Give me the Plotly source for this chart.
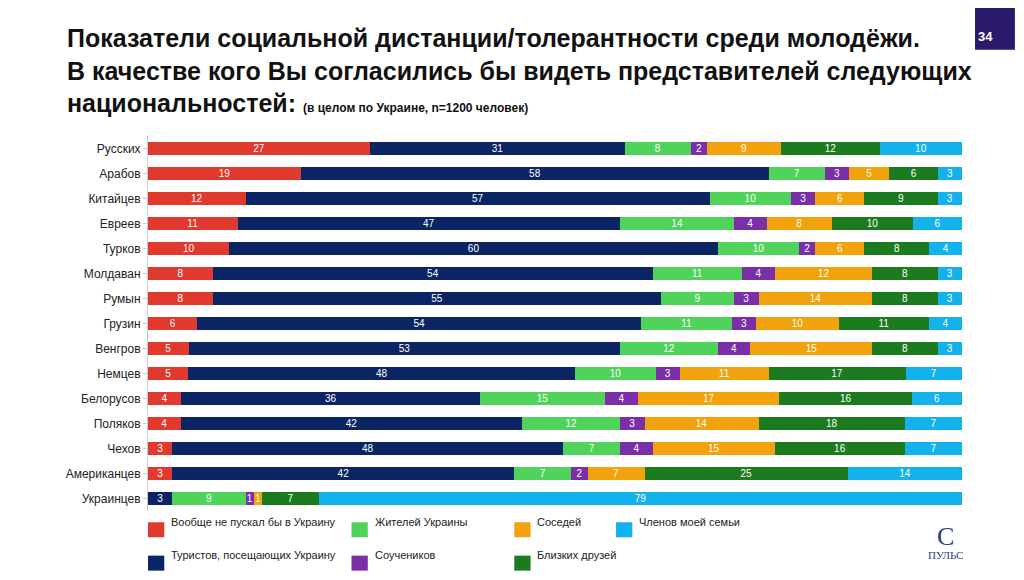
import plotly.graph_objects as go

groups = ["Русских", "Арабов", "Китайцев", "Евреев", "Турков", "Молдаван", "Румын", "Грузин",
          "Венгров", "Немцев", "Белорусов", "Поляков", "Чехов", "Американцев", "Украинцев"]

series = {
    "Вообще не пускал бы в Украину": ("#e03a2f", [27, 19, 12, 11, 10, 8, 8, 6, 5, 5, 4, 4, 3, 3, 0]),
    "Туристов, посещающих Украину": ("#0b2463", [31, 58, 57, 47, 60, 54, 55, 54, 53, 48, 36, 42, 48, 42, 3]),
    "Жителей Украины": ("#4fd35a", [8, 7, 10, 14, 10, 11, 9, 11, 12, 10, 15, 12, 7, 7, 9]),
    "Соучеников": ("#7a2fa8", [2, 3, 3, 4, 2, 4, 3, 3, 4, 3, 4, 3, 4, 2, 1]),
    "Соседей": ("#f2a20c", [9, 5, 6, 8, 6, 12, 14, 10, 15, 11, 17, 14, 15, 7, 1]),
    "Близких друзей": ("#1c7a1f", [12, 6, 9, 10, 8, 8, 8, 11, 8, 17, 16, 18, 16, 25, 7]),
    "Членов моей семьи": ("#14b2ec", [10, 3, 3, 6, 4, 3, 3, 4, 3, 7, 6, 7, 7, 14, 79]),
}

fig = go.Figure()
for name, (color, vals) in series.items():
    fig.add_trace(go.Bar(
        y=groups, x=vals, name=name, orientation="h", marker_color=color,
        marker_line_width=0, text=vals, textposition="inside", insidetextanchor="middle",
        textfont=dict(color="white", size=10), textangle=0, showlegend=False,
    ))

fig.update_layout(
    barmode="stack", barnorm="percent", bargap=0.45,
    width=1024, height=580, plot_bgcolor="white", paper_bgcolor="white",
    margin=dict(l=140, r=70, t=128, b=77),
    font=dict(family="Liberation Sans, Arial", color="#222"),
    uniformtext=dict(minsize=8, mode="show"),
)
fig.update_xaxes(visible=False, range=[0, 100])
fig.update_yaxes(autorange="reversed", tickfont=dict(size=12, color="#222"), automargin=False,
                 showline=True, linecolor="#ccc", ticks="outside", ticklen=4, tickcolor="#ccc")

# title
fig.add_annotation(xref="paper", yref="paper", x=-0.102, y=1.304, xanchor="left", yanchor="top",
                   showarrow=False, align="left",
                   text="<b>Показатели социальной дистанции/толерантности среди молодёжи.<br>"
                        "В качестве кого Вы согласились бы видеть представителей следующих<br>"
                        "национальностей: </b><b><span style='font-size:12px'>(в целом по Украине, n=1200 человек)</span></b>",
                   font=dict(size=25, color="#111", family="Liberation Sans"))
fig.add_shape(type="rect", xref="paper", yref="paper", x0=1.016, x1=1.065, y0=1.23, y1=1.345,
              fillcolor="#2b1a6b", line_width=0)
fig.add_annotation(xref="paper", yref="paper", x=1.0405, y=1.29, showarrow=False,
                   text="<b>34</b>", font=dict(size=13, color="white"))

# legend built by hand to keep the slide layout
legend_pos = [
    ("Вообще не пускал бы в Украину", 0.0, -0.05),
    ("Жителей Украины", 0.25, -0.05),
    ("Соседей", 0.45, -0.05),
    ("Членов моей семьи", 0.575, -0.05),
    ("Туристов, посещающих Украину", 0.0, -0.139),
    ("Соучеников", 0.25, -0.139),
    ("Близких друзей", 0.45, -0.139),
]
for name, lx, ly in legend_pos:
    fig.add_shape(type="rect", xref="paper", yref="paper", x0=lx, x1=lx + 0.02,
                  y0=ly - 0.02, y1=ly + 0.02, fillcolor=series[name][0], line_width=0)
    fig.add_annotation(xref="paper", yref="paper", x=lx + 0.026, y=ly, xanchor="left",
                       showarrow=False, text=name, font=dict(size=11, color="#222"))

fig.add_annotation(xref="paper", yref="paper", x=1.004, y=-0.024, yanchor="top", showarrow=False,
                   text="<span style='font-size:26px;color:#2b3a8c'>С</span><br>ПУЛЬС",
                   font=dict(size=11, color="#2b3a8c", family="Liberation Serif"))

fig.write_html("out.html")
